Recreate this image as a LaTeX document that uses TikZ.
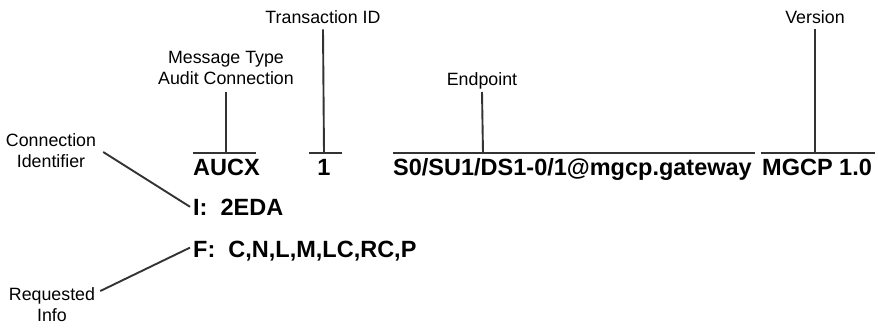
\documentclass[tikz,border=0pt]{standalone}
\usepackage{fontspec}
\setmainfont{Liberation Sans}
\definecolor{lncol}{HTML}{333333}
\begin{document}
\begin{tikzpicture}[x=1pt,y=-1pt,
  lbl/.style={font=\fontsize{17.8}{21.5}\selectfont, inner sep=0pt, align=center},
  cmd/.style={font=\fontsize{23.5}{28}\selectfont\bfseries, inner sep=0pt},
  ln/.style={draw=lncol, line width=1.9pt}]
\useasboundingbox (0,0) rectangle (878,335);

% labels
\node[lbl, anchor=base] (trans) at (323,23) {Transaction ID};
\node[lbl, anchor=base] (ver) at (815,23) {Version};
\node[lbl, anchor=south] (msg) at (226,85) {Message Type\\Audit Connection};
\node[lbl, anchor=base] (endp) at (482,85) {Endpoint};
\node[lbl, anchor=south] (connid) at (51,168) {Connection\\Identifier};
\node[lbl, anchor=south] (req) at (52,322) {Requested\\Info};

% command text
\node[cmd, anchor=base west] (aucx) at (193,175) {AUCX};
\node[cmd, anchor=base] (tid) at (324,175) {1};
\node[cmd, anchor=base west] (ep) at (393,175) {S0/SU1/DS1-0/1@mgcp.gateway};
\node[cmd, anchor=base west] (mgcp) at (762,175) {MGCP 1.0};
\node[cmd, anchor=base west] (inode) at (193,215) {I:\ \ 2EDA};
\node[cmd, anchor=base west] (fnode) at (193,257) {F:\ \ C,N,L,M,LC,RC,P};

% bar coordinates
\coordinate (aL) at (193,153); \coordinate (aR) at (256,153); \coordinate (aT) at (226,153);
\coordinate (tL) at (309,153); \coordinate (tR) at (342,153); \coordinate (tT) at (324,153);
\coordinate (eL) at (393,153); \coordinate (eR) at (755,153); \coordinate (eT) at (483,153);
\coordinate (mL) at (761,153); \coordinate (mR) at (875,153); \coordinate (mT) at (815,153);

% bars
\draw[ln] (aL) -- (aR);
\draw[ln] (tL) -- (tR);
\draw[ln] (eL) -- (eR);
\draw[ln] (mL) -- (mR);

% stems
\draw[ln] ([yshift=-7pt]msg.south) -- (aT);
\draw[ln] ([yshift=-6pt]trans.south) -- (tT);
\draw[ln] ([yshift=-7pt]endp.base) -- (eT);
\draw[ln] ([yshift=-6pt]ver.south) -- (mT);

% diagonal leaders
\draw[ln] ([shift={(7,1.5)}]connid.east) -- ([xshift=-3pt]inode.west);
\draw[ln] ([shift={(5,4)}]req.north east) -- ([shift={(-3,-3)}]fnode.west);
\end{tikzpicture}
\end{document}
